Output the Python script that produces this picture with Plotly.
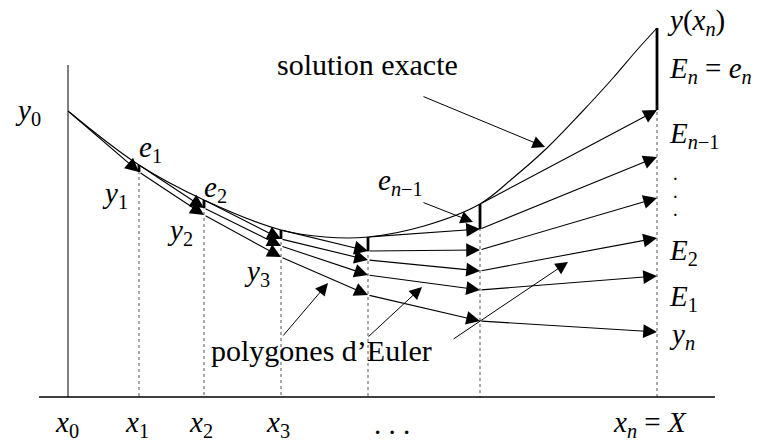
import plotly.graph_objects as go

# ---- data (diagram units, origin at the corner of the axes) ----
x_grid = [0, 71, 136, 213, 300, 412, 589]          # x_0 .. x_n
exact_x = [0, 71, 136, 213, 257, 300, 356, 412, 445, 479, 512, 545, 569, 589]
exact_y = [286, 232, 197, 167, 160, 160, 171, 193, 219, 249, 283, 319, 347, 369]
exact_at_grid = [286, 232, 197, 167, 160, 193, 369]  # y(x_k)

# Euler polygons: polygon k starts at y(x_k)
poly_0 = [286, 225, 182, 140, 102, 76, 65]
poly_1 = [232, 189, 151, 122, 107, 121]
poly_2 = [197, 158, 137, 126, 159]
poly_3 = [167, 146, 147, 199]
poly_4 = [160, 168, 240]
poly_5 = [193, 287]
polygons = [poly_0, poly_1, poly_2, poly_3, poly_4, poly_5]

x_tick_labels = ["<i>x</i><sub>0</sub>", "<i>x</i><sub>1</sub>", "<i>x</i><sub>2</sub>",
                 "<i>x</i><sub>3</sub>", ". . .", "<i>x<sub>n</sub></i> = <i>X</i>"]

FONT = "Liberation Serif"
MATH = 29
fig = go.Figure()

# dotted verticals
for k in range(1, len(x_grid)):
    fig.add_trace(go.Scatter(x=[x_grid[k], x_grid[k]], y=[exact_at_grid[k], 0], mode="lines",
                             line=dict(color="#555", width=1, dash="dot"), hoverinfo="skip"))

# axes
fig.add_trace(go.Scatter(x=[-29, 647], y=[0, 0], mode="lines", line=dict(color="black", width=1.3)))
fig.add_trace(go.Scatter(x=[0, 0], y=[0, 332], mode="lines", line=dict(color="black", width=1)))

# exact solution
fig.add_trace(go.Scatter(x=exact_x, y=exact_y, mode="lines",
                         line=dict(color="black", width=1.1, shape="spline", smoothing=1.0)))

# local errors (thick)
for k in range(1, len(x_grid)):
    fig.add_trace(go.Scatter(x=[x_grid[k], x_grid[k]], y=[exact_at_grid[k], polygons[k - 1][1]], mode="lines",
                             line=dict(color="black", width=2.8)))

annotations = []

def arrow(x0, y0, x1, y1, w=1.1):
    annotations.append(dict(x=x1, y=y1, ax=x0, ay=y0, xref="x", yref="y", axref="x", ayref="y",
                            text="", showarrow=True, arrowhead=2, arrowsize=2.5, arrowwidth=w,
                            arrowcolor="black", standoff=0, startstandoff=0))

# Euler polygons as arrows
for k, poly in enumerate(polygons):
    for i in range(len(poly) - 1):
        arrow(x_grid[k + i], poly[i], x_grid[k + i + 1], poly[i + 1])

# pointer arrows
arrow(354, 301, 477, 250, 1)   # solution exacte
arrow(354, 195, 405, 175, 1)   # e_{n-1}
arrow(214, 60, 260, 114, 1)    # polygones d'Euler
arrow(299, 59, 354, 110, 1)
arrow(384, 57, 500, 135, 1)

def label(text, x, y, size=MATH, xanchor="center"):
    annotations.append(dict(x=x, y=y, xref="x", yref="y", text=text, showarrow=False,
                            xanchor=xanchor, yanchor="middle",
                            font=dict(family=FONT, size=size, color="black")))

label("<i>y</i><sub>0</sub>", -40, 285)
label("<i>e</i><sub>1</sub>", 82, 248)
label("<i>y</i><sub>1</sub>", 47, 202)
label("<i>e</i><sub>2</sub>", 147, 208)
label("<i>y</i><sub>2</sub>", 112, 165)
label("<i>y</i><sub>3</sub>", 189, 124)
label("<i>e</i><sub><i>n</i>−1</sub>", 332, 215)
label("<i>y</i>(<i>x<sub>n</sub></i>)", 597, 375, xanchor="left")
label("<i>E<sub>n</sub></i> = <i>e<sub>n</sub></i>", 599, 327, xanchor="left")
label("<i>E</i><sub><i>n</i>−1</sub>", 599, 262, xanchor="left")
label("<b>·</b><br><b>·</b><br><b>·</b>", 607, 200, size=14, xanchor="center")
label("<i>E</i><sub>2</sub>", 599, 145, xanchor="left")
label("<i>E</i><sub>1</sub>", 599, 99, xanchor="left")
label("<i>y<sub>n</sub></i>", 599, 61, xanchor="left")
label("solution exacte", 299, 333, size=30)
label("polygones d’Euler", 253, 47, size=30)

tick_pos = [-1, 69, 133, 210, 324, 582]
for t, xp in zip(x_tick_labels, tick_pos):
    label(t, xp, -27)

fig.update_layout(
    width=773, height=441, margin=dict(l=0, r=0, t=0, b=0),
    paper_bgcolor="white", plot_bgcolor="white", showlegend=False,
    xaxis=dict(range=[-68, 705], visible=False),
    yaxis=dict(range=[-44, 397], visible=False),
    annotations=annotations,
)
fig.write_html("out.html", config={"displayModeBar": False},
               post_script="document.body.style.margin='0px';document.body.style.overflow='hidden';")
